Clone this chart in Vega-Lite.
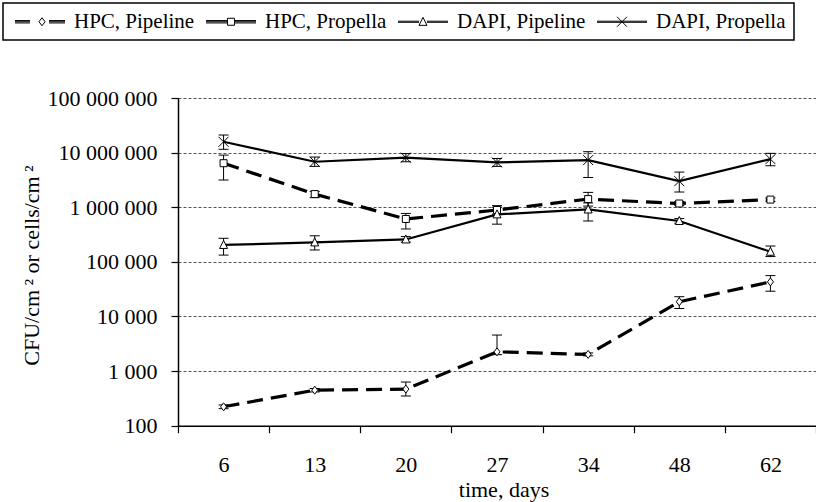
{
  "$schema": "https://vega.github.io/schema/vega-lite/v6.json",
  "width": 638,
  "height": 327.7,
  "autosize": {"type": "none"},
  "padding": {"left": 178, "top": 98, "right": 0, "bottom": 76.3},
  "background": "white",
  "config": {
    "view": {"stroke": null},
    "font": "Liberation Serif",
    "axis": {
      "labelFont": "Liberation Serif",
      "titleFont": "Liberation Serif",
      "labelFontSize": 22,
      "titleFontSize": 22,
      "labelColor": "black",
      "titleColor": "black",
      "titleFontWeight": "normal",
      "domainColor": "black",
      "domainWidth": 1.5,
      "tickColor": "black",
      "tickWidth": 1.2,
      "tickSize": 7
    },
    "legend": {"strokeWidth": 1.5}
  },
  "data": {
    "values": [
      {"series": "HPC, Pipeline", "day": 6, "value": 222, "lo": 205, "hi": 240},
      {"series": "HPC, Pipeline", "day": 13, "value": 447, "lo": 415, "hi": 480},
      {"series": "HPC, Pipeline", "day": 20, "value": 468, "lo": 350, "hi": 630},
      {"series": "HPC, Pipeline", "day": 27, "value": 2250, "lo": 2000, "hi": 4570},
      {"series": "HPC, Pipeline", "day": 34, "value": 2020, "lo": 1900, "hi": 2150},
      {"series": "HPC, Pipeline", "day": 48, "value": 18600, "lo": 14000, "hi": 23000},
      {"series": "HPC, Pipeline", "day": 62, "value": 43000, "lo": 29000, "hi": 56000},
      {"series": "HPC, Propella", "day": 6, "value": 6400000, "lo": 3150000, "hi": 9000000},
      {"series": "HPC, Propella", "day": 13, "value": 1740000, "lo": 1500000, "hi": 1950000},
      {"series": "HPC, Propella", "day": 20, "value": 610000, "lo": 400000, "hi": 770000},
      {"series": "HPC, Propella", "day": 27, "value": 890000, "lo": 750000, "hi": 1070000},
      {"series": "HPC, Propella", "day": 34, "value": 1410000, "lo": 1050000, "hi": 1870000},
      {"series": "HPC, Propella", "day": 48, "value": 1170000, "lo": 1080000, "hi": 1270000},
      {"series": "HPC, Propella", "day": 62, "value": 1380000, "lo": 1280000, "hi": 1480000},
      {"series": "DAPI, Pipeline", "day": 6, "value": 204000, "lo": 133000, "hi": 270000},
      {"series": "DAPI, Pipeline", "day": 13, "value": 227000, "lo": 165000, "hi": 300000},
      {"series": "DAPI, Pipeline", "day": 20, "value": 257000, "lo": 230000, "hi": 290000},
      {"series": "DAPI, Pipeline", "day": 27, "value": 740000, "lo": 490000, "hi": 1000000},
      {"series": "DAPI, Pipeline", "day": 34, "value": 910000, "lo": 560000, "hi": 1200000},
      {"series": "DAPI, Pipeline", "day": 48, "value": 560000, "lo": 510000, "hi": 620000},
      {"series": "DAPI, Pipeline", "day": 62, "value": 153000, "lo": 125000, "hi": 195000},
      {"series": "DAPI, Propella", "day": 6, "value": 15800000, "lo": 11500000, "hi": 21000000},
      {"series": "DAPI, Propella", "day": 13, "value": 6800000, "lo": 5600000, "hi": 8300000},
      {"series": "DAPI, Propella", "day": 20, "value": 8100000, "lo": 6800000, "hi": 9600000},
      {"series": "DAPI, Propella", "day": 27, "value": 6600000, "lo": 5600000, "hi": 7800000},
      {"series": "DAPI, Propella", "day": 34, "value": 7300000, "lo": 3500000, "hi": 10400000},
      {"series": "DAPI, Propella", "day": 48, "value": 3000000, "lo": 1900000, "hi": 4400000},
      {"series": "DAPI, Propella", "day": 62, "value": 7600000, "lo": 5750000, "hi": 9700000}
    ]
  },
  "encoding": {
    "x": {
      "field": "day",
      "type": "ordinal",
      "scale": {"type": "band", "paddingInner": 0, "paddingOuter": 0},
      "axis": {
        "title": "time, days",
        "labelAngle": 0,
        "tickBand": "extent",
        "labelBaseline": "alphabetic",
        "labelPadding": 39,
        "titleX": 325.5,
        "titleY": 71,
        "titleBaseline": "alphabetic"
      }
    }
  },
  "layer": [
    {
      "transform": [{"filter": "indexof(datum.series, 'HPC') === 0"}],
      "mark": {"type": "line", "color": "black", "strokeWidth": 3.2, "strokeDash": [16, 8]},
      "encoding": {
        "detail": {"field": "series", "type": "nominal"},
        "y": {
          "field": "value",
          "type": "quantitative",
          "scale": {"type": "log", "domain": [100, 100000000], "nice": false},
          "axis": {
            "title": "CFU/cm\u2009² or cells/cm\u2009²",
            "values": [100, 1000, 10000, 100000, 1000000, 10000000, 100000000],
            "labelExpr": "replace(format(datum.value, ','), regexp(',', 'g'), ' ')",
            "grid": true,
            "gridDash": [3, 2],
            "gridColor": "#555555",
            "gridWidth": 1,
            "labelPadding": 14,
            "titleX": -147,
            "titleY": 167,
            "titleAngle": 270,
            "titleAlign": "center",
            "titleBaseline": "middle"
          }
        }
      }
    },
    {
      "transform": [{"filter": "indexof(datum.series, 'DAPI') === 0"}],
      "mark": {"type": "line", "color": "black", "strokeWidth": 2.2},
      "encoding": {
        "detail": {"field": "series", "type": "nominal"},
        "y": {"field": "value", "type": "quantitative", "title": "CFU/cm\u2009² or cells/cm\u2009²"}
      }
    },
    {
      "mark": {"type": "rule", "color": "black", "strokeWidth": 1, "opacity": 1},
      "encoding": {
        "y": {"field": "lo", "type": "quantitative", "title": "CFU/cm\u2009² or cells/cm\u2009²"},
        "y2": {"field": "hi"}
      }
    },
    {
      "mark": {"type": "tick", "color": "black", "size": 10, "thickness": 1, "opacity": 1},
      "encoding": {
        "y": {"field": "lo", "type": "quantitative", "title": "CFU/cm\u2009² or cells/cm\u2009²"}
      }
    },
    {
      "mark": {"type": "tick", "color": "black", "size": 10, "thickness": 1, "opacity": 1},
      "encoding": {
        "y": {"field": "hi", "type": "quantitative", "title": "CFU/cm\u2009² or cells/cm\u2009²"}
      }
    },
    {
      "mark": {"type": "point", "filled": true, "fill": "white", "stroke": "black", "strokeWidth": 1, "opacity": 1, "size": 100},
      "encoding": {
        "y": {"field": "value", "type": "quantitative", "title": "CFU/cm\u2009² or cells/cm\u2009²"},
        "shape": {
          "field": "series",
          "type": "nominal",
          "scale": {
            "domain": ["HPC, Pipeline", "HPC, Propella", "DAPI, Pipeline", "DAPI, Propella"],
            "range": [
              "M0,-0.8L0.6,0L0,0.8L-0.6,0Z",
              "M-0.7,-0.7H0.7V0.7H-0.7Z",
              "M0,-0.9L0.8,0.7L-0.8,0.7Z",
              "M-1,-1L1,1M-1,1L1,-1"
            ]
          },
          "legend": null
        }
      }
    },
    {
      "mark": {"type": "point", "filled": false, "color": "black", "strokeWidth": 1, "opacity": 1, "size": 0},
      "encoding": {
        "y": {"field": "value", "type": "quantitative", "title": "CFU/cm\u2009² or cells/cm\u2009²"},
        "shape": {
          "field": "series",
          "type": "nominal",
          "scale": {
            "domain": ["HPC, Pipeline", "HPC, Propella", "DAPI, Pipeline", "DAPI, Propella"],
            "range": [
              "M-0.8125,-0.15H1.0625M-0.8125,0H1.0625M-0.8125,0.15H1.0625M3.4375,-0.15H5.4375M3.4375,0H5.4375M3.4375,0.15H5.4375M2.5625,-0.5L2.9375,0L2.5625,0.5L2.1875,0Z",
              "M-0.8125,-0.15H1.875M-0.8125,0H1.875M-0.8125,0.15H1.875M2.75,-0.15H5.4375M2.75,0H5.4375M2.75,0.15H5.4375M1.875,-0.4375H2.75V0.4375H1.875Z",
              "M-0.8125,-0.07H1.8125M-0.8125,0.07H1.8125M2.8125,-0.07H5.4375M2.8125,0.07H5.4375M2.3125,-0.55L2.8125,0.45L1.8125,0.45Z",
              "M-0.8125,-0.07H5.4375M-0.8125,0.07H5.4375M1.6875,-0.625L2.9375,0.625M1.6875,0.625L2.9375,-0.625"
            ]
          },
          "legend": {
            "orient": "none",
            "legendX": -175,
            "legendY": -95,
            "direction": "horizontal",
            "columns": 4,
            "gridAlign": "each",
            "title": null,
            "symbolSize": 256,
            "symbolOffset": 0,
            "labelOffset": 42,
            "columnPadding": 7,
            "padding": 8,
            "strokeColor": "black",
            "labelFont": "Liberation Serif",
            "labelFontSize": 21,
            "labelColor": "black",
            "labelLimit": 0,
            "symbolStrokeColor": "black",
            "symbolFillColor": "white",
            "symbolStrokeWidth": 1,
            "symbolOpacity": 1
          }
        }
      }
    }
  ],
  "resolve": {"scale": {"shape": "independent"}}
}
